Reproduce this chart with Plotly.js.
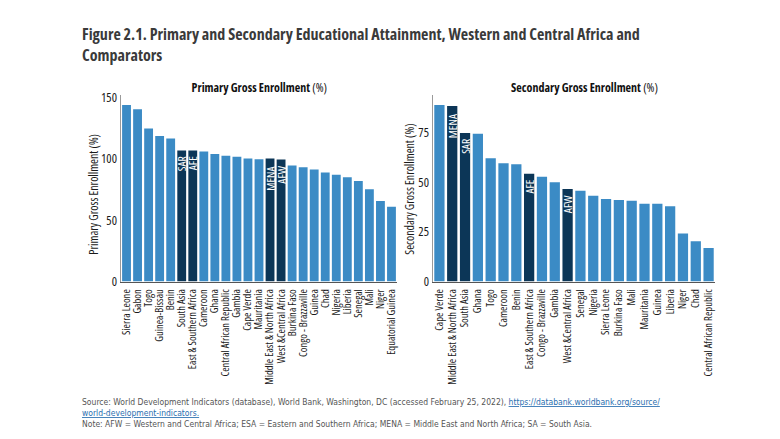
<!DOCTYPE html>
<html><head><meta charset="utf-8">
<script src="https://cdn.plot.ly/plotly-3.0.1.min.js"></script>
<style>html,body{margin:0;padding:0;background:#fff}#c{width:780px;height:439px}
#c svg text{font-stretch:condensed !important}</style>
</head><body><div id="c"></div>
<script>
const primaryCats = ["Sierra Leone","Gabon","Togo","Guinea-Bissau","Benin","South Asia","East & Southern Africa","Cameroon","Ghana","Central African Republic","Gambia","Cape Verde","Mauritania","Middle East & North Africa","West &Central Africa","Burkina Faso","Congo - Brazzaville","Guinea","Chad","Nigeria","Liberia","Senegal","Mali","Niger","Equatorial Guinea"];
const primaryVals = [143.8,140.3,124.7,118.5,116.6,106.8,106.8,106.0,104.0,102.4,101.6,100.2,99.7,100.2,99.4,94.5,93.1,91.2,88.8,87.1,85.0,82.0,75.2,65.6,61.0];
const primaryTags = ["","","","","","SAR","AFE","","","","","","","MENA","AFW","","","","","","","","","",""];

const secondaryCats = ["Cape Verde","Middle East & North Africa","South Asia","Ghana","Togo","Cameroon","Benin","East & Southern Africa","Congo - Brazzaville","Gambia","West &Central Africa","Senegal","Nigeria","Sierra Leone","Burkina Faso","Mali","Mauritania","Guinea","Liberia","Niger","Chad","Central African Republic"];
const secondaryVals = [89.1,88.6,75.0,74.6,62.2,59.7,59.2,54.4,52.9,50.1,46.7,45.9,43.3,41.7,41.2,40.8,39.3,39.3,38.0,24.3,20.3,16.9];
const secondaryTags = ["","MENA","SAR","","","","","AFE","","","AFW","","","","","","","","","","",""];

const primaryTicks = [0, 50, 100, 150];
const secondaryTicks = [0, 25, 50, 75];

const LIGHT = "#3B8BC5", DARK = "#0C3657";
const NARROW = "DejaVu Sans Condensed, DejaVu Sans, sans-serif";
const OPEN = "Open Sans, sans-serif";
const colorsFor = tags => tags.map(t => t ? DARK : LIGHT);

const barCommon = {
  type: "bar", textposition: "inside", insidetextanchor: "end", textangle: -90,
  constraintext: "none", cliponaxis: false, hoverinfo: "x+y",
  insidetextfont: {family: OPEN, size: 11.5, color: "#ffffff"}
};
const traces = [
  Object.assign({}, barCommon, {x: primaryCats, y: primaryVals, text: primaryTags,
    marker: {color: colorsFor(primaryTags)}, xaxis: "x", yaxis: "y"}),
  Object.assign({}, barCommon, {x: secondaryCats, y: secondaryVals, text: secondaryTags,
    marker: {color: colorsFor(secondaryTags)}, xaxis: "x2", yaxis: "y2"})
];

const H = 439, W = 780;
const yDom = [(H - 281.5) / H, (H - 95) / H];
const xAxisCommon = {
  tickangle: -90, tickfont: {family: OPEN, size: 10.6, color: "#1a1a1a"}, tickmode: "linear", dtick: 1,
  showline: true, linecolor: "#555", linewidth: 1.5, ticks: "outside", ticklen: 2, tickcolor: "rgba(0,0,0,0)",
  showgrid: false, zeroline: false, fixedrange: true, automargin: false
};
const yAxisCommon = {
  tickfont: {family: OPEN, size: 12.5, color: "#1a1a1a"}, showline: true, linecolor: "#9a9a9a",
  linewidth: 1.5, ticks: "", showgrid: false,
  zeroline: false, fixedrange: true, automargin: false
};

const layout = {
  width: W, height: H, margin: {l: 0, r: 0, t: 0, b: 0}, showlegend: false,
  paper_bgcolor: "#fff", plot_bgcolor: "#fff", bargap: 0.2,
  xaxis: Object.assign({}, xAxisCommon, {domain: [121 / W, 397 / W], anchor: "y"}),
  yaxis: Object.assign({}, yAxisCommon, {domain: yDom, range: [0, 152], tickvals: primaryTicks, anchor: "x"}),
  xaxis2: Object.assign({}, xAxisCommon, {domain: [433 / W, 715 / W], anchor: "y2"}),
  yaxis2: Object.assign({}, yAxisCommon, {domain: yDom, range: [0, 94.2], tickvals: secondaryTicks, anchor: "x2"}),
  annotations: [
    {xref: "paper", yref: "paper", x: 80 / W, y: 1 - 21 / H, xanchor: "left", yanchor: "top", align: "left",
     showarrow: false, text: "<b>Figure 2.1. Primary and Secondary Educational Attainment, Western and Central Africa and<br>Comparators</b>",
     font: {family: OPEN, size: 16, color: "#3a3a3a"}},
    {xref: "paper", yref: "paper", x: 259 / W, y: 1 - 87 / H, xanchor: "center", yanchor: "middle", showarrow: false,
     text: "<b>Primary Gross Enrollment</b> (%)", font: {family: OPEN, size: 12, color: "#111"}},
    {xref: "paper", yref: "paper", x: 584 / W, y: 1 - 87 / H, xanchor: "center", yanchor: "middle", showarrow: false,
     text: "<b>Secondary Gross Enrollment</b> (%)", font: {family: OPEN, size: 12, color: "#111"}},
    {xref: "paper", yref: "paper", x: 93 / W, y: 1 - 195 / H, xanchor: "center", yanchor: "middle", showarrow: false,
     textangle: -90, text: "Primary Gross Enrollment (%)", font: {family: OPEN, size: 11.8, color: "#1a1a1a"}},
    {xref: "paper", yref: "paper", x: 409 / W, y: 1 - 189 / H, xanchor: "center", yanchor: "middle", showarrow: false,
     textangle: -90, text: "Secondary Gross Enrollment (%)", font: {family: OPEN, size: 11.8, color: "#1a1a1a"}},
    {xref: "paper", yref: "paper", x: 80 / W, y: 1 - 395 / H, xanchor: "left", yanchor: "top", align: "left", showarrow: false,
     text: "Source: World Development Indicators (database), World Bank, Washington, DC (accessed February 25, 2022), <span style='color:#2a6fb0'><u>https://databank.worldbank.org/source/</u></span><br><span style='color:#2a6fb0'><u>world-development-indicators.</u></span><br>Note: AFW = Western and Central Africa; ESA = Eastern and Southern Africa; MENA = Middle East and North Africa; SA = South Asia.",
     font: {family: NARROW, size: 8.5, color: "#555"}}
  ]
};
Plotly.newPlot("c", traces, layout, {displayModeBar: false, staticPlot: true});
</script></body></html>
